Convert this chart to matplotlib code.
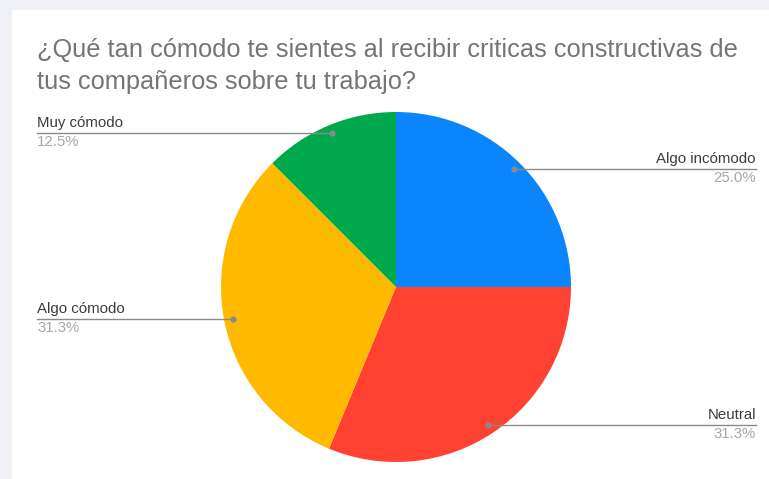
import matplotlib
matplotlib.use("Agg")
import matplotlib.pyplot as plt
from matplotlib.patches import Rectangle
import numpy as np
import math

title = "¿Qué tan cómodo te sientes al recibir criticas constructivas de\ntus compañeros sobre tu trabajo?"
categories = ["Algo incómodo", "Neutral", "Algo cómodo", "Muy cómodo"]
values = [4, 5, 5, 2]
colors = ["#0b85fb", "#ff4132", "#ffba00", "#00a84c"]

W, H = 769, 479
fig = plt.figure(figsize=(W / 100, H / 100), dpi=100)
fig.patch.set_facecolor("#eef0f5")
ax = fig.add_axes([0, 0, 1, 1])
ax.set_xlim(0, W)
ax.set_ylim(0, H)
ax.set_aspect("equal")
ax.axis("off")

ax.add_patch(Rectangle((12, 0), W - 12, H - 10, facecolor="white", edgecolor="none", zorder=0))

cx, cy, R = 396, H - 287, 175
wedges, _ = ax.pie(values, colors=colors, startangle=90, counterclock=False,
                   center=(cx, cy), radius=R, frame=True,
                   wedgeprops=dict(linewidth=0))
ax.set_xlim(0, W)
ax.set_ylim(0, H)
ax.axis("off")

total = sum(values)
font = "Liberation Sans"
for w, lab, v in zip(wedges, categories, values):
    ang = np.deg2rad((w.theta1 + w.theta2) / 2)
    dx, dy = cx + 0.95 * R * np.cos(ang), cy + 0.95 * R * np.sin(ang)
    if np.cos(ang) >= 0:
        xe, ha = 756, "right"
    else:
        xe, ha = 37, "left"
    pct = math.floor(1000 * v / total + 0.5) / 10
    ax.plot([dx, xe], [dy, dy], color="#8a8a8a", lw=1.0, zorder=3)
    ax.plot([dx], [dy], "o", color="#8a8a8a", ms=3.5, zorder=4)
    ax.text(xe, dy + 3, lab, ha=ha, va="bottom", fontsize=10.8, color="#3c3c3c", family=font)
    ax.text(xe, dy - 2, f"{pct:.1f}%", ha=ha, va="top", fontsize=10.8, color="#a8a8a8", family=font)

fig.text(37 / W, 1 - 38 / H, title, ha="left", va="top", fontsize=18.3, color="#757575",
         family=font, linespacing=1.42)

fig.savefig("out.png", dpi=100, facecolor=fig.get_facecolor())
